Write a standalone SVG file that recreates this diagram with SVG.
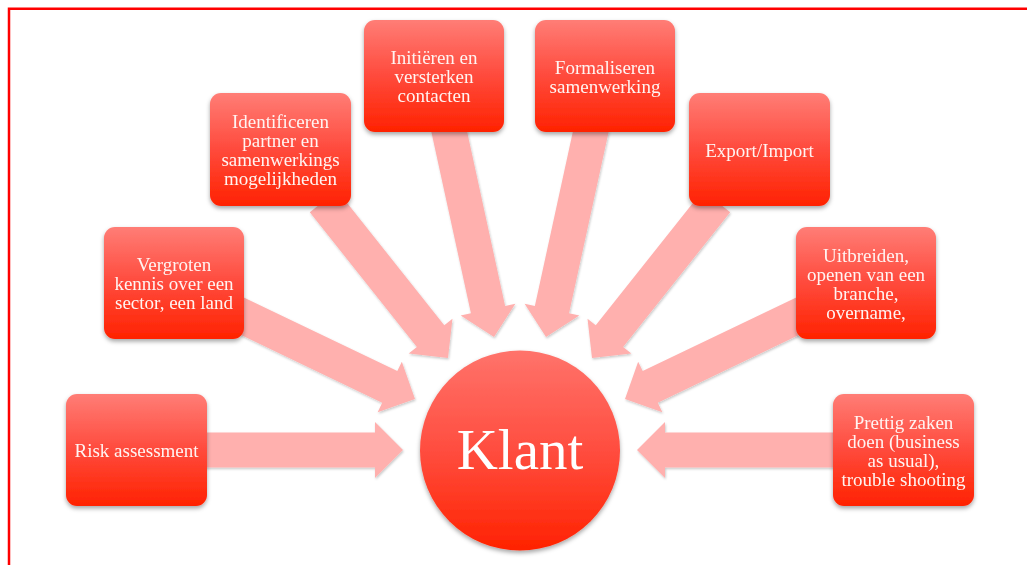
<svg xmlns="http://www.w3.org/2000/svg" width="1027" height="565" viewBox="0 0 1027 565">
  <defs>
    <linearGradient id="boxFill" x1="0" y1="0" x2="0" y2="1">
      <stop offset="0" stop-color="#ff7d76"/>
      <stop offset="0.5" stop-color="#ff4a3c"/>
      <stop offset="1" stop-color="#ff2200"/>
    </linearGradient>
    <linearGradient id="circleFill" x1="0" y1="0" x2="0" y2="1">
      <stop offset="0" stop-color="#ff736b"/>
      <stop offset="0.5" stop-color="#ff4d3f"/>
      <stop offset="1" stop-color="#ff2200"/>
    </linearGradient>
    <filter id="shadow" x="-20%" y="-20%" width="140%" height="150%">
      <feDropShadow dx="0" dy="2.5" stdDeviation="2" flood-color="#000" flood-opacity="0.35"/>
    </filter>
    <filter id="arrowShadow" x="-20%" y="-20%" width="140%" height="140%">
      <feDropShadow dx="0.8" dy="1.5" stdDeviation="1.2" flood-color="#000" flood-opacity="0.22"/>
    </filter>
    <!-- block arrow pointing along +x, tip at origin -->
    <polygon id="arrow200" points="-200,-17.5 -28,-17.5 -28,-28 0,0 -28,28 -28,17.5 -200,17.5"/>
    <polygon id="arrow215" points="-215,-17.5 -28,-17.5 -28,-28 0,0 -28,28 -28,17.5 -215,17.5"/>
    <style>
      .arrow { fill: #ffb0ae; }
      .box { fill: url(#boxFill); filter: url(#shadow); }
      .label { font-family: "Liberation Serif", "Times New Roman", serif; font-size: 19px; fill: #fff4f2; text-anchor: middle; }
      .big { font-family: "Liberation Serif", "Times New Roman", serif; font-size: 57px; fill: #ffffff; text-anchor: middle; }
    </style>
  </defs>

  <rect width="1027" height="565" fill="#ffffff"/>

  <!-- frame -->
  <path d="M9 565 V8.8 H1027" fill="none" stroke="#ff0000" stroke-width="2.5"/>

  <!-- connectors -->
  <g id="connectors" filter="url(#arrowShadow)">
    <use href="#arrow200" class="arrow" transform="translate(403,450)"/>
    <use href="#arrow200" class="arrow" transform="translate(415,399) rotate(25.6)"/>
    <use href="#arrow200" class="arrow" transform="translate(448,358) rotate(51.5)"/>
    <use href="#arrow215" class="arrow" transform="translate(494,337) rotate(77.7)"/>
    <use href="#arrow215" class="arrow" transform="translate(546,337) rotate(102.3)"/>
    <use href="#arrow200" class="arrow" transform="translate(592,358) rotate(128.5)"/>
    <use href="#arrow200" class="arrow" transform="translate(625,399) rotate(154.4)"/>
    <use href="#arrow200" class="arrow" transform="translate(637,450) rotate(180)"/>
  </g>

  <g id="risk">
    <rect class="box" x="66" y="394" width="141" height="112" rx="11"/>
    <text class="label" x="136.5" y="456.5">Risk assessment</text>
  </g>

  <g id="vergroten">
    <rect class="box" x="104" y="227" width="140" height="112" rx="11"/>
    <text class="label" x="174" y="270.5">Vergroten</text>
    <text class="label" x="174" y="289.5">kennis over een</text>
    <text class="label" x="174" y="308.5">sector, een land</text>
  </g>

  <g id="identificeren">
    <rect class="box" x="210" y="93" width="141" height="113" rx="11"/>
    <text class="label" x="280.5" y="127.5">Identificeren</text>
    <text class="label" x="280.5" y="146.5">partner en</text>
    <text class="label" x="280.5" y="165.5">samenwerkings</text>
    <text class="label" x="280.5" y="184.5">mogelijkheden</text>
  </g>

  <g id="initieren">
    <rect class="box" x="364" y="20" width="140" height="112" rx="11"/>
    <text class="label" x="434" y="64">Initiëren en</text>
    <text class="label" x="434" y="83">versterken</text>
    <text class="label" x="434" y="102">contacten</text>
  </g>

  <g id="formaliseren">
    <rect class="box" x="535" y="20" width="140" height="112" rx="11"/>
    <text class="label" x="605" y="74">Formaliseren</text>
    <text class="label" x="605" y="93">samenwerking</text>
  </g>

  <g id="export">
    <rect class="box" x="689" y="93" width="141" height="113" rx="11"/>
    <text class="label" x="759.5" y="157">Export/Import</text>
  </g>

  <g id="uitbreiden">
    <rect class="box" x="796" y="227" width="140" height="112" rx="11"/>
    <text class="label" x="866" y="262">Uitbreiden,</text>
    <text class="label" x="866" y="281">openen van een</text>
    <text class="label" x="866" y="300">branche,</text>
    <text class="label" x="866" y="319">overname,</text>
  </g>

  <g id="prettig">
    <rect class="box" x="833" y="394" width="141" height="112" rx="11"/>
    <text class="label" x="903.5" y="428.5">Prettig zaken</text>
    <text class="label" x="903.5" y="447.5">doen (business</text>
    <text class="label" x="903.5" y="466.5">as usual),</text>
    <text class="label" x="903.5" y="485.5">trouble shooting</text>
  </g>

  <g id="klant">
    <circle cx="520" cy="450.5" r="100" fill="url(#circleFill)" filter="url(#shadow)"/>
    <text class="big" x="520" y="469">Klant</text>
  </g>
</svg>
